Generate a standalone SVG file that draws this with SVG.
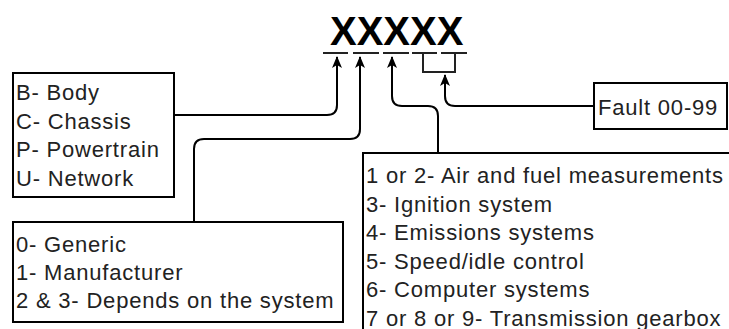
<svg xmlns="http://www.w3.org/2000/svg" width="729" height="329" viewBox="0 0 729 329">
<defs>
<marker id="arr" viewBox="0 0 12 10" refX="11" refY="5" markerWidth="12" markerHeight="10" markerUnits="userSpaceOnUse" orient="auto">
<path d="M0,0 L12,5 L0,10 L3,5 Z" fill="#000"/>
</marker>
<style>
.box{fill:#fff;stroke:#000;stroke-width:2}
.t{font-family:"Liberation Sans",Arial,sans-serif;font-size:22px;fill:#222;letter-spacing:0.8px}
.c{fill:none;stroke:#000;stroke-width:2;marker-end:url(#arr)}
.u{stroke:#222;stroke-width:2;fill:none}
</style>
</defs>
<rect width="729" height="329" fill="#fff"/>
<g id="code">
<text x="330" y="45" font-family="'Liberation Sans',Arial,sans-serif" font-size="40" font-weight="bold" fill="#000">XXXXX</text>
<path class="u" d="M323,53H348M353,53H379M383,53H409M412,53H437M441,53H467"/>
<path class="u" d="M423,53V72H455V53"/>
</g>
<g id="connectors">
<path class="c" d="M174,115H327Q337,115 337,105V57"/>
<path class="c" d="M194,222V149Q194,139 204,139H350Q360,139 360,129V57"/>
<path class="c" d="M438,153V116Q438,106 428,106H402Q392,106 392,96V57"/>
<path class="c" d="M594,106H455Q445,106 445,96V75"/>
</g>
<g id="category">
<rect class="box" x="13" y="73" width="161" height="124"/>
<text class="t" x="16" y="100">B- Body</text>
<text class="t" x="16" y="128.5">C- Chassis</text>
<text class="t" x="16" y="157">P- Powertrain</text>
<text class="t" x="16" y="185.5">U- Network</text>
</g>
<g id="type">
<rect class="box" x="13" y="222" width="330" height="100"/>
<text class="t" x="16" y="252">0- Generic</text>
<text class="t" x="16" y="280">1- Manufacturer</text>
<text class="t" x="16" y="308">2 &amp; 3- Depends on the system</text>
</g>
<g id="subsystem">
<rect class="box" x="363" y="153" width="380" height="200"/>
<text class="t" x="366" y="183">1 or 2- Air and fuel measurements</text>
<text class="t" x="366" y="211.5">3- Ignition system</text>
<text class="t" x="366" y="240">4- Emissions systems</text>
<text class="t" x="366" y="268.5">5- Speed/idle control</text>
<text class="t" x="366" y="297">6- Computer systems</text>
<text class="t" x="366" y="325.5">7 or 8 or 9- Transmission gearbox</text>
</g>
<g id="fault">
<rect class="box" x="594" y="83" width="133" height="46"/>
<text class="t" x="598" y="115">Fault 00-99</text>
</g>
</svg>
